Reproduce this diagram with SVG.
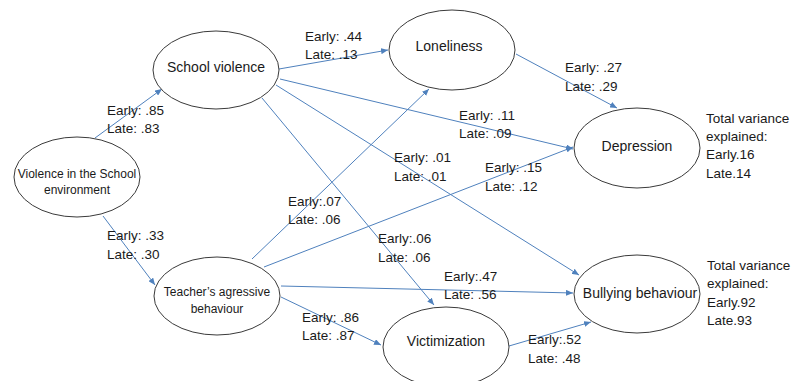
<svg xmlns="http://www.w3.org/2000/svg" width="794" height="381" viewBox="0 0 794 381">
<style>
.node ellipse{fill:#fff;stroke:#3a3a3a;stroke-width:1}
.nl{font-family:"Liberation Sans",Arial,sans-serif;font-size:14px;fill:#1a1a1a;text-anchor:middle}
.ns{font-family:"Liberation Sans",Arial,sans-serif;font-size:12px;fill:#1a1a1a;text-anchor:middle}
.lb{font-family:"Liberation Sans",Arial,sans-serif;font-size:13.5px;fill:#1a1a1a}
#edges line{stroke:#4f81bd;stroke-width:1;marker-end:url(#ah)}
</style>
<defs>
<marker id="ah" markerWidth="8" markerHeight="6" refX="7" refY="3" orient="auto" markerUnits="userSpaceOnUse">
<path d="M0,0 L7,3 L0,6 Z" fill="#4f81bd"/>
</marker>
</defs>
<rect width="794" height="381" fill="#fff"/>
<g id="edges">
<line x1="95" y1="138" x2="162" y2="89"/>
<line x1="103" y1="216" x2="155" y2="285"/>
<line x1="279" y1="69" x2="388" y2="50"/>
<line x1="280" y1="79" x2="573" y2="149"/>
<line x1="276" y1="85" x2="579" y2="275"/>
<line x1="262" y1="98" x2="434" y2="305"/>
<line x1="516" y1="54" x2="617" y2="108"/>
<line x1="252" y1="259" x2="429" y2="89"/>
<line x1="264" y1="267" x2="573" y2="147"/>
<line x1="281" y1="286" x2="573" y2="293"/>
<line x1="281" y1="297" x2="381" y2="345"/>
<line x1="509" y1="346" x2="591" y2="322"/>
</g>
<g id="n-env" class="node"><ellipse cx="77" cy="177" rx="63" ry="40"/><text class="ns" x="77" y="178">Violence in the School</text><text class="ns" x="77" y="194">environment</text></g>
<g id="n-school" class="node"><ellipse cx="216" cy="70" rx="63" ry="39"/><text class="nl" x="216" y="72">School violence</text></g>
<g id="n-teacher" class="node"><ellipse cx="217" cy="296" rx="63" ry="39"/><text class="ns" x="217" y="296">Teacher’s agressive</text><text class="ns" x="217" y="313">behaviour</text></g>
<g id="n-lonely" class="node"><ellipse cx="452" cy="50" rx="63" ry="40"/><text class="nl" x="449" y="51">Loneliness</text></g>
<g id="n-depr" class="node"><ellipse cx="637" cy="148" rx="63" ry="40"/><text class="nl" x="637" y="151">Depression</text></g>
<g id="n-bully" class="node"><ellipse cx="637" cy="294" rx="63" ry="39"/><text class="nl" x="640" y="298">Bullying behaviour</text></g>
<g id="n-vict" class="node"><ellipse cx="446" cy="347" rx="63" ry="40"/><text class="nl" x="446" y="346">Victimization</text></g>
<g id="labels" class="lb">
<text class="lb" x="107" y="115">Early: .85</text><text class="lb" x="107" y="133">Late: .83</text>
<text class="lb" x="107" y="240">Early: .33</text><text class="lb" x="107" y="259">Late: .30</text>
<text class="lb" x="305" y="41">Early: .44</text><text class="lb" x="305" y="59">Late: .13</text>
<text class="lb" x="565" y="72">Early: .27</text><text class="lb" x="565" y="91">Late: .29</text>
<text class="lb" x="459" y="120">Early: .11</text><text class="lb" x="459" y="138">Late: .09</text>
<text class="lb" x="394" y="162">Early: .01</text><text class="lb" x="394" y="181">Late: .01</text>
<text class="lb" x="485" y="172">Early: .15</text><text class="lb" x="485" y="191">Late: .12</text>
<text class="lb" x="288" y="206">Early:.07</text><text class="lb" x="288" y="224">Late: .06</text>
<text class="lb" x="378" y="243">Early:.06</text><text class="lb" x="378" y="262">Late: .06</text>
<text class="lb" x="444" y="281">Early:.47</text><text class="lb" x="444" y="299">Late: .56</text>
<text class="lb" x="302" y="322">Early: .86</text><text class="lb" x="302" y="340">Late: .87</text>
<text class="lb" x="528" y="344">Early:.52</text><text class="lb" x="528" y="363">Late: .48</text>
<text class="lb" x="706" y="123">Total variance</text><text class="lb" x="706" y="141">explained:</text><text class="lb" x="706" y="159">Early.16</text><text class="lb" x="706" y="178">Late.14</text>
<text class="lb" x="707" y="270">Total variance</text><text class="lb" x="707" y="288">explained:</text><text class="lb" x="707" y="307">Early.92</text><text class="lb" x="707" y="325">Late.93</text>
</g>
</svg>
